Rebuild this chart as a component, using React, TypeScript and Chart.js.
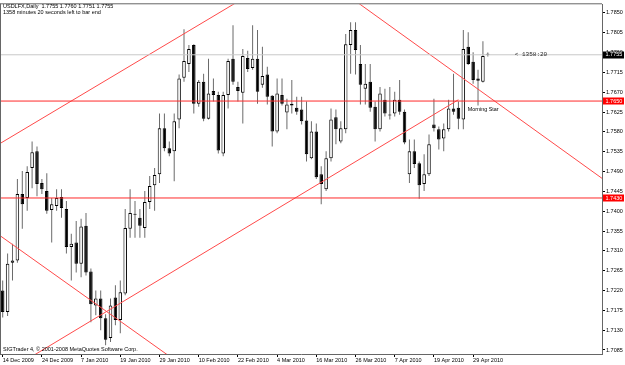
import React, { useEffect, useRef } from "react";
import { Chart, registerables } from "chart.js";

Chart.register(...registerables);

// ---- Daily USDLFX bars, 14 Dec 2009 .. 4 May 2010 (one entry per trading day) ----
const opens = [
  1.7220, 1.7171, 1.7283, 1.7288, 1.7439, 1.7430, 1.7498, 1.7536, 1.7464, 1.7446,
  1.7403, 1.7412, 1.7432, 1.7405, 1.7319, 1.7329, 1.7281, 1.7367, 1.7263, 1.7186,
  1.7202, 1.7157, 1.7112, 1.7204, 1.7153, 1.7213, 1.7360, 1.7394, 1.7385, 1.7362,
  1.7421, 1.7459, 1.7484, 1.7588, 1.7543, 1.7536, 1.7608, 1.7703, 1.7734, 1.7777,
  1.7644, 1.7694, 1.7610, 1.7673, 1.7664, 1.7531, 1.7664, 1.7746, 1.7682, 1.7669,
  1.7748, 1.7725, 1.7746, 1.7687, 1.7710, 1.7662, 1.7581, 1.7664, 1.7624, 1.7644,
  1.7635, 1.7631, 1.7606, 1.7520, 1.7581, 1.7484, 1.7450, 1.7520, 1.7613, 1.7558,
  1.7586, 1.7777, 1.7811, 1.7734, 1.7678, 1.7694, 1.7637, 1.7586, 1.7653, 1.7617,
  1.7622, 1.7653, 1.7626, 1.7484, 1.7536, 1.7509, 1.7462, 1.7484, 1.7597, 1.7586,
  1.7565, 1.7586, 1.7633, 1.7635, 1.7608, 1.7773, 1.7739, 1.7701, 1.7694, 1.7755,
];
const highs = [
  1.7243, 1.7304, 1.7326, 1.7473, 1.7491, 1.7502, 1.7558, 1.7547, 1.7473, 1.7486,
  1.7430, 1.7450, 1.7450, 1.7423, 1.7349, 1.7378, 1.7383, 1.7396, 1.7270, 1.7220,
  1.7220, 1.7166, 1.7202, 1.7232, 1.7243, 1.7405, 1.7450, 1.7423, 1.7405, 1.7446,
  1.7480, 1.7498, 1.7622, 1.7622, 1.7558, 1.7622, 1.7710, 1.7813, 1.7777, 1.7779,
  1.7698, 1.7712, 1.7746, 1.7701, 1.7671, 1.7671, 1.7746, 1.7822, 1.7694, 1.7768,
  1.7764, 1.7822, 1.7811, 1.7773, 1.7728, 1.7664, 1.7701, 1.7701, 1.7655, 1.7698,
  1.7660, 1.7660, 1.7649, 1.7604, 1.7599, 1.7502, 1.7536, 1.7633, 1.7631, 1.7604,
  1.7802, 1.7829, 1.7829, 1.7777, 1.7734, 1.7734, 1.7649, 1.7682, 1.7678, 1.7682,
  1.7671, 1.7698, 1.7631, 1.7563, 1.7563, 1.7513, 1.7529, 1.7574, 1.7655, 1.7592,
  1.7599, 1.7653, 1.7712, 1.7649, 1.7811, 1.7806, 1.7761, 1.7721, 1.7786, 1.7760,
];
const lows = [
  1.7159, 1.7162, 1.7243, 1.7283, 1.7360, 1.7401, 1.7452, 1.7434, 1.7439, 1.7394,
  1.7329, 1.7401, 1.7385, 1.7304, 1.7243, 1.7261, 1.7250, 1.7254, 1.7148, 1.7164,
  1.7130, 1.7096, 1.7103, 1.7141, 1.7123, 1.7209, 1.7340, 1.7340, 1.7340, 1.7340,
  1.7405, 1.7401, 1.7464, 1.7536, 1.7525, 1.7468, 1.7588, 1.7694, 1.7716, 1.7622,
  1.7637, 1.7604, 1.7608, 1.7649, 1.7531, 1.7525, 1.7633, 1.7687, 1.7649, 1.7599,
  1.7716, 1.7721, 1.7644, 1.7680, 1.7642, 1.7547, 1.7577, 1.7640, 1.7586, 1.7622,
  1.7619, 1.7597, 1.7513, 1.7518, 1.7473, 1.7416, 1.7446, 1.7513, 1.7552, 1.7554,
  1.7577, 1.7712, 1.7710, 1.7642, 1.7642, 1.7626, 1.7558, 1.7581, 1.7615, 1.7608,
  1.7615, 1.7619, 1.7552, 1.7464, 1.7498, 1.7428, 1.7446, 1.7480, 1.7581, 1.7540,
  1.7536, 1.7581, 1.7619, 1.7586, 1.7586, 1.7732, 1.7689, 1.7640, 1.7692, 1.7751,
];
const closes = [
  1.7171, 1.7281, 1.7288, 1.7439, 1.7416, 1.7489, 1.7534, 1.7462, 1.7450, 1.7401,
  1.7416, 1.7430, 1.7407, 1.7319, 1.7326, 1.7281, 1.7365, 1.7261, 1.7189, 1.7202,
  1.7157, 1.7108, 1.7186, 1.7153, 1.7216, 1.7362, 1.7396, 1.7392, 1.7367, 1.7421,
  1.7457, 1.7482, 1.7588, 1.7543, 1.7531, 1.7604, 1.7701, 1.7741, 1.7768, 1.7644,
  1.7694, 1.7610, 1.7667, 1.7664, 1.7538, 1.7664, 1.7741, 1.7694, 1.7673, 1.7752,
  1.7723, 1.7746, 1.7671, 1.7707, 1.7660, 1.7581, 1.7667, 1.7644, 1.7642, 1.7640,
  1.7626, 1.7604, 1.7529, 1.7581, 1.7477, 1.7462, 1.7520, 1.7608, 1.7586, 1.7588,
  1.7779, 1.7811, 1.7766, 1.7687, 1.7689, 1.7635, 1.7586, 1.7667, 1.7622, 1.7619,
  1.7653, 1.7626, 1.7556, 1.7536, 1.7507, 1.7459, 1.7484, 1.7552, 1.7588, 1.7563,
  1.7586, 1.7633, 1.7626, 1.7610, 1.7768, 1.7734, 1.7698, 1.7696, 1.7752, 1.7755,
];

// time-axis labels (one every 8 bars) and price-axis labels
const dateTickLabels = [
  "14 Dec 2009", "24 Dec 2009", "7 Jan 2010", "19 Jan 2010", "29 Jan 2010",
  "10 Feb 2010", "22 Feb 2010", "4 Mar 2010", "16 Mar 2010", "26 Mar 2010",
  "7 Apr 2010", "19 Apr 2010", "29 Apr 2010",
];
const barsPerDateTick = 8;
const priceTickLabels = [
  1.7850, 1.7805, 1.7760, 1.7715, 1.7670, 1.7625, 1.7580, 1.7535, 1.7490,
  1.7445, 1.7400, 1.7355, 1.7310, 1.7265, 1.7220, 1.7175, 1.7130, 1.7085,
];

// price levels
const bidPrice = 1.7755;
const resistanceLevel = 1.7650;
const supportLevel = 1.7430;

// trend lines: anchor points (bar index, price)
const upperChannelLine = [{ x: -2, y: 1.7544 }, { x: 50, y: 1.7889 }];
const lowerChannelLine = [{ x: 6.5, y: 1.7074 }, { x: 93, y: 1.7653 }];
const upperFallingLine = [{ x: 70, y: 1.7893 }, { x: 125, y: 1.7453 }];
const lowerFallingLine = [{ x: -2, y: 1.7356 }, { x: 34, y: 1.7071 }];

// text objects
const headerLine1 = "USDLFX,Daily  1.7755 1.7760 1.7751 1.7755";
const headerLine2 = "1358 minutes 20 seconds left to bar end";
const copyrightText = "SIGTrader 4, \u00a9 2001-2008 MetaQuotes Software Corp.";
const patternLabel = { text: "Morning Star", bar: 94.9, price: 1.7631 };
const timerLabel = { text: "< 1358:20", bar: 104.5, price: bidPrice };

// visible ranges
const X_MIN = -0.55;
const X_MAX = 122.3;
const Y_MIN = 1.70759;
const Y_MAX = 1.78696;

const FONT = '"Liberation Sans", Arial, sans-serif';

export default function App() {
  const ref = useRef<HTMLCanvasElement | null>(null);

  useEffect(() => {
    const canvas = ref.current;
    if (!canvas) return;

    const idx = opens.map((_, i) => i);
    const bodies = idx.map((i) => ({
      x: i,
      y: [Math.min(opens[i], closes[i]), Math.max(opens[i], closes[i])],
    }));
    const wicks = idx.map((i) => ({ x: i, y: [lows[i], highs[i]] }));
    const bodyColors = idx.map((i) => (closes[i] >= opens[i] ? "#ffffff" : "#000000"));

    const hLine = (v: number) => [{ x: X_MIN - 5, y: v }, { x: X_MAX + 5, y: v }];
    const lineDs = (data: any[], color: string) => ({
      type: "line" as const,
      data,
      borderColor: color,
      borderWidth: 1,
      pointRadius: 0,
      tension: 0,
      fill: false,
      order: 0,
    });

    const overlay = {
      id: "mt4overlay",
      afterDraw(chart: any) {
        const { ctx, chartArea: a, scales } = chart;
        const xs = scales.x;
        const ys = scales.y;
        ctx.save();
        // frame
        ctx.strokeStyle = "#666";
        ctx.lineWidth = 1;
        ctx.beginPath();
        ctx.moveTo(0.5, a.top - 0.5);
        ctx.lineTo(0.5, a.bottom);
        ctx.moveTo(0, a.top - 0.5);
        ctx.lineTo(a.right, a.top - 0.5);
        ctx.stroke();

        // texts
        ctx.fillStyle = "#000";
        ctx.textAlign = "left";
        ctx.textBaseline = "middle";
        ctx.font = `5.5px ${FONT}`;
        ctx.fillText(headerLine1, 3, 6.5);
        ctx.fillText(headerLine2, 3, 12.8);
        ctx.fillText(copyrightText, 3, 349);
        ctx.font = `5.4px ${FONT}`;
        ctx.fillText(patternLabel.text, xs.getPixelForValue(patternLabel.bar), ys.getPixelForValue(patternLabel.price));
        ctx.font = `6px "Liberation Mono", monospace`;
        ctx.fillStyle = "#222";
        ctx.fillText(timerLabel.text, xs.getPixelForValue(timerLabel.bar), ys.getPixelForValue(timerLabel.price));

        // price boxes on the axis
        const boxes = [
          { v: bidPrice, bg: "#000000" },
          { v: resistanceLevel, bg: "#ff0000" },
          { v: supportLevel, bg: "#ff0000" },
        ];
        ctx.font = `5.5px ${FONT}`;
        for (const b of boxes) {
          const py = ys.getPixelForValue(b.v);
          ctx.fillStyle = b.bg;
          ctx.fillRect(a.right + 1, Math.round(py) - 3.5, 21, 7);
          ctx.fillStyle = "#fff";
          ctx.fillText(b.v.toFixed(4), a.right + 3.5, py);
        }
        ctx.restore();
      },
    };

    const chart = new Chart(canvas, {
      type: "bar",
      data: {
        datasets: [
          {
            type: "bar",
            data: bodies as any,
            backgroundColor: bodyColors,
            borderColor: "#000",
            borderWidth: 1,
            borderSkipped: false,
            maxBarThickness: 4,
            minBarLength: 1,
            grouped: false,
            order: 1,
          } as any,
          {
            type: "bar",
            data: wicks as any,
            backgroundColor: "#6a6a6a",
            borderWidth: 0,
            maxBarThickness: 1,
            grouped: false,
            order: 2,
          } as any,
          lineDs(hLine(bidPrice), "#c8c8c8"),
          lineDs(hLine(resistanceLevel), "#ff2a2a"),
          lineDs(hLine(supportLevel), "#ff2a2a"),
          lineDs(upperChannelLine, "#ff4a4a"),
          lineDs(lowerChannelLine, "#ff4a4a"),
          lineDs(upperFallingLine, "#ff4a4a"),
          lineDs(lowerFallingLine, "#ff4a4a"),
        ] as any,
      },
      options: {
        responsive: false,
        maintainAspectRatio: false,
        devicePixelRatio: 1,
        animation: false,
        events: [],
        layout: { padding: { top: 2, left: 0, right: 0, bottom: 0 } },
        plugins: { legend: { display: false }, tooltip: { enabled: false } },
        scales: {
          x: {
            type: "linear",
            position: "bottom",
            min: X_MIN,
            max: X_MAX,
            offset: false,
            afterBuildTicks: (s: any) => {
              s.ticks = dateTickLabels.map((_, k) => ({ value: k * barsPerDateTick }));
            },
            afterFit: (s: any) => {
              s.height = 11;
            },
            ticks: {
              autoSkip: false,
              maxRotation: 0,
              minRotation: 0,
              align: "start",
              padding: 0,
              color: "#000",
              font: { family: FONT, size: 5.5 },
              callback: (_v: any, i: number) => dateTickLabels[i],
            },
            grid: { display: true, drawOnChartArea: false, drawTicks: true, tickLength: 3, color: "#000", offset: false },
            border: { display: true, color: "#666" },
          },
          y: {
            type: "linear",
            position: "right",
            min: Y_MIN,
            max: Y_MAX,
            beginAtZero: false,
            afterBuildTicks: (s: any) => {
              s.ticks = priceTickLabels.map((v) => ({ value: v }));
            },
            afterFit: (s: any) => {
              s.width = 23;
            },
            ticks: {
              autoSkip: false,
              padding: 1,
              color: "#000",
              font: { family: FONT, size: 5.5 },
              callback: (v: any) => Number(v).toFixed(4),
            },
            grid: { display: true, drawOnChartArea: false, drawTicks: true, tickLength: 3, color: "#000" },
            border: { display: true, color: "#666" },
          },
        },
      } as any,
      plugins: [overlay],
    });

    return () => chart.destroy();
  }, []);

  return (
    <div style={{ position: "fixed", left: 0, top: 0, width: 625, height: 365, background: "#fff" }}>
      <canvas ref={ref} width={625} height={365} style={{ width: 625, height: 365, display: "block" }} />
    </div>
  );
}
